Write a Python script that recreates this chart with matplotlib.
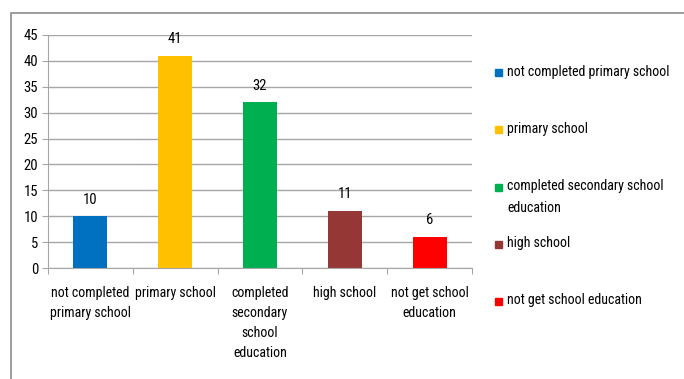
import matplotlib.pyplot as plt
from matplotlib.patches import Rectangle

plt.rcParams['font.family'] = ['Roboto Condensed', 'Lato', 'DejaVu Sans']

# data
categories = ["not completed\nprimary school", "primary school",
              "completed\nsecondary\nschool\neducation", "high school",
              "not get school\neducation"]
legend_labels = ["not completed primary school", "primary school",
                 "completed secondary school\neducation", "high school",
                 "not get school education"]
values = [10, 41, 32, 11, 6]
colors = ["#0070C0", "#FFC000", "#00B050", "#953735", "#FF0000"]
yticks = list(range(0, 50, 5))

fs = 10

fig = plt.figure(figsize=(6.84, 3.79), dpi=100)
# outer frame like the source screenshot
fig.patches.append(Rectangle((11 / 684, -0.1), 1.0, 1 - 13 / 379 + 0.1,
                             transform=fig.transFigure, fill=False,
                             edgecolor="#8c8c8c", lw=1.2))

ax = fig.add_axes([48 / 684, 1 - 268 / 379, 424 / 684, 233 / 379])
x = range(len(values))
bars = ax.bar(x, values, width=0.4, color=colors)
for xi, v in zip(x, values):
    ax.annotate(str(v), (xi, v), xytext=(0, 12), textcoords="offset points",
                ha="center", va="center", fontsize=fs + 0.5)

ax.set_xlim(-0.5, len(values) - 0.5)
ax.set_ylim(0, 45)
ax.set_yticks(yticks)
ax.yaxis.grid(True, color="#a6a6a6", lw=1)
ax.set_axisbelow(True)
for s in ["top", "right"]:
    ax.spines[s].set_visible(False)
ax.spines["left"].set_color("#a6a6a6")
ax.spines["bottom"].set_color("#a6a6a6")
ax.tick_params(axis="y", length=4, color="#a6a6a6", labelsize=fs + 0.5, pad=3)
ax.set_xticks([i + 0.5 for i in range(-1, len(values))], minor=False)
ax.set_xticklabels([])
ax.set_xticks(list(x), minor=True)
ax.set_xticklabels(categories, minor=True, fontsize=fs, linespacing=1.55, va="top")
ax.tick_params(axis="x", which="major", length=4, color="#a6a6a6")
ax.tick_params(axis="x", which="minor", length=0, pad=13)

# legend drawn as a column of square markers + labels on the right
for i, (lab, c) in enumerate(zip(legend_labels, colors)):
    yc = 1 - (73 + 57 * i) / 379
    fig.patches.append(Rectangle((495 / 684, yc - 3.5 / 379), 7 / 684, 7 / 379,
                                 transform=fig.transFigure, color=c))
    fig.text(507 / 684, yc + 8 / 379, lab, fontsize=fs, va="top", ha="left",
             linespacing=1.7)

fig.savefig("out.png", dpi=100)
